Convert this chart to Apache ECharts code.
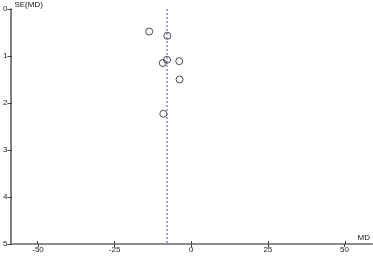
<!DOCTYPE html>
<html><head><meta charset="utf-8">
<script src="https://cdn.jsdelivr.net/npm/echarts@6/dist/echarts.min.js"></script>
<style>html,body{margin:0;padding:0;background:#fff}#c{width:373px;height:257px}</style>
</head><body><div id="c"></div>
<script>
const mdValues = [-13.7, -7.8, -7.9, -9.3, -3.9, -3.8, -9.1];
const seValues = [0.48, 0.57, 1.08, 1.15, 1.11, 1.50, 2.23];
const pooledMD = -7.9;
const xTicks = [-50, -25, 0, 25, 50];
const yTicks = [0, 1, 2, 3, 4, 5];

const points = mdValues.map((v, i) => [v, seValues[i]]);
const font = 'Liberation Sans, Arial, sans-serif';
const chart = echarts.init(document.getElementById('c'), null, {renderer: 'canvas'});
const gridBox = {left: 9, right: 0, top: 9, bottom: 13, containLabel: false};
const xBase = {type: 'value', min: -59, max: 59, splitLine: {show: false}};
const yBase = {type: 'value', min: 0, max: 5, interval: 1, inverse: true, splitLine: {show: false}};
chart.setOption({
  animation: false,
  grid: [Object.assign({}, gridBox), Object.assign({}, gridBox)],
  xAxis: [
    Object.assign({}, xBase, {
      gridIndex: 0, position: 'bottom',
      name: 'MD', nameLocation: 'end', nameGap: -2,
      nameTextStyle: {fontSize: 8, fontFamily: font, color: '#111', align: 'right', verticalAlign: 'bottom', padding: [0, 0, 2, 0]},
      axisLine: {show: true, onZero: false, lineStyle: {color: '#8c8c8c', width: 2}},
      axisTick: {show: true, inside: false, length: 3, customValues: xTicks, lineStyle: {color: '#444', width: 1}},
      axisLabel: {show: true, customValues: xTicks, fontSize: 8, fontFamily: font, color: '#222', margin: 2}
    }),
    Object.assign({}, xBase, {
      gridIndex: 1, position: 'bottom',
      axisLine: {show: false, onZero: false},
      axisTick: {show: true, inside: true, length: 3, customValues: xTicks, lineStyle: {color: '#444', width: 1}},
      axisLabel: {show: false}
    })
  ],
  yAxis: [
    Object.assign({}, yBase, {
      gridIndex: 0, position: 'left',
      name: 'SE(MD)', nameLocation: 'start', nameGap: 4,
      nameTextStyle: {fontSize: 8, fontFamily: font, color: '#111', align: 'left', verticalAlign: 'middle', padding: [0, 0, 0, 4]},
      axisLine: {show: true, onZero: false, lineStyle: {color: '#555', width: 1.5}},
      axisTick: {show: true, inside: false, length: 3, customValues: yTicks, lineStyle: {color: '#444', width: 1}},
      axisLabel: {show: true, customValues: yTicks, fontSize: 8, fontFamily: font, color: '#222', margin: 3}
    }),
    Object.assign({}, yBase, {
      gridIndex: 1, position: 'left',
      axisLine: {show: false, onZero: false},
      axisTick: {show: true, inside: true, length: 3, customValues: yTicks, lineStyle: {color: '#444', width: 1}},
      axisLabel: {show: false}
    })
  ],
  series: [
    {
      type: 'line', xAxisIndex: 0, yAxisIndex: 0,
      data: [[pooledMD, 0], [pooledMD, 5]],
      symbol: 'none', silent: true,
      lineStyle: {color: '#4848e8', width: 1, type: [2, 2]}
    },
    {
      type: 'scatter', xAxisIndex: 0, yAxisIndex: 0,
      data: points, symbol: 'circle', symbolSize: 7,
      itemStyle: {color: 'rgba(255,255,255,0)', borderColor: '#222', borderWidth: 1}
    },
    {
      type: 'scatter', xAxisIndex: 1, yAxisIndex: 1, data: [], silent: true
    }
  ]
});
</script></body></html>
